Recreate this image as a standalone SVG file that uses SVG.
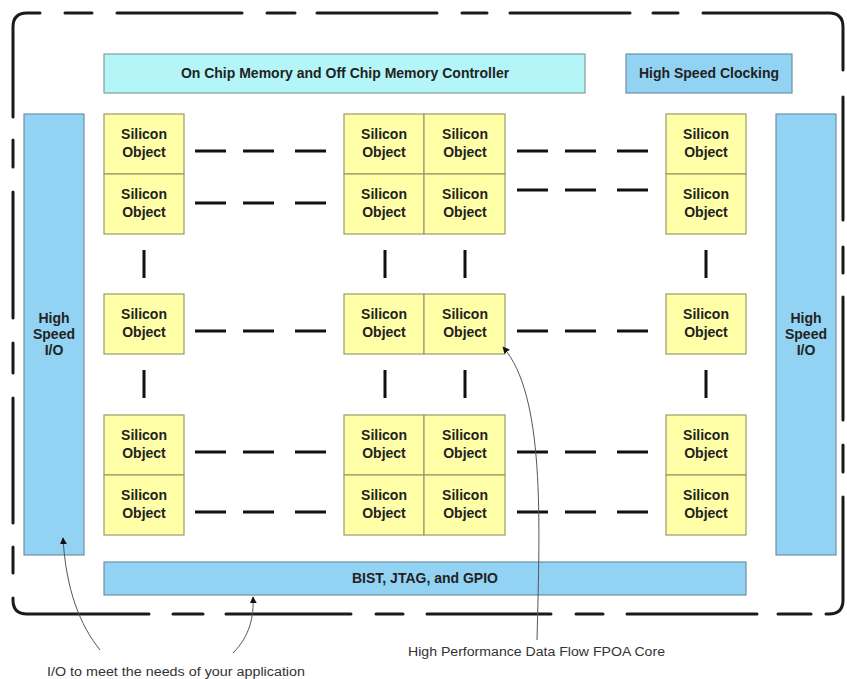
<svg xmlns="http://www.w3.org/2000/svg" width="847" height="679" viewBox="0 0 847 679">
<defs>
<style>
.so{fill:#ffffa8;stroke:#9a9a6a;stroke-width:1.2}
.cy{fill:#b4f6f8;stroke:#7d9e9e;stroke-width:1.2}
.bl{fill:#92d3f3;stroke:#6f90a6;stroke-width:1.2}
.t{font-family:"Liberation Sans",Arial,sans-serif;font-weight:bold;font-size:14px;fill:#222;text-anchor:middle}
.n{font-family:"Liberation Sans",Arial,sans-serif;font-size:12px;fill:#333}
.dh{stroke:#111;stroke-width:3.2;stroke-dasharray:31 17 31 21 31;fill:none}
.dv{stroke:#111;stroke-width:3;fill:none}
.bd{stroke:#1a1a1a;stroke-width:3;fill:none;stroke-linecap:round}
.ar{stroke:#555;stroke-width:1;fill:none;marker-end:url(#ah)}
</style>
<marker id="ah" viewBox="0 0 10 10" refX="9" refY="5" markerWidth="7" markerHeight="7" markerUnits="userSpaceOnUse" orient="auto">
<path d="M0,0 L10,5 L0,10 z" fill="#111"/>
</marker>
</defs>
<rect width="847" height="679" fill="#fff"/>
<g id="border">
<path class="bd" d="M13,117 V27 Q13,13 27,13 H40"/>
<path class="bd" d="M65,13 H92 M117,13 H242 M267,13 H295 M317,13 H437 M462,13 H487 M510,13 H630 M653,13 H678"/>
<path class="bd" d="M703,13 H829 Q843,13 843,27 V70"/>
<path class="bd" d="M843,97 V220 M843,247 V273 M843,297 V420 M843,445 V472"/>
<path class="bd" d="M843,497 V600 Q843,614 829,614 H826"/>
<path class="bd" d="M811,614 H778 M757,614 H627 M603,614 H576 M551,614 H427 M403,614 H376 M351,614 H226 M203,614 H173"/>
<path class="bd" d="M149,614 H27 Q13,614 13,600 V598"/>
<path class="bd" d="M13,573 V547 M13,523 V398 M13,373 V343 M13,318 V192 M13,167 V140"/>
</g>
<g id="memory"><rect class="cy" x="104" y="54" width="481" height="39"/><text class="t" x="345" y="78">On Chip Memory and Off Chip Memory Controller</text></g>
<g id="clocking"><rect class="bl" x="626" y="54" width="166" height="39"/><text class="t" x="709" y="78">High Speed Clocking</text></g>
<g id="io-left"><rect class="bl" x="24" y="114" width="60" height="441"/><text class="t" x="54" y="323">High</text><text class="t" x="54" y="339">Speed</text><text class="t" x="54" y="355">I/O</text></g>
<g id="io-right"><rect class="bl" x="776" y="114" width="60" height="441"/><text class="t" x="806" y="323">High</text><text class="t" x="806" y="339">Speed</text><text class="t" x="806" y="355">I/O</text></g>
<g id="bist"><rect class="bl" x="104" y="562" width="642" height="33"/><text class="t" x="425" y="583">BIST, JTAG, and GPIO</text></g>
<g id="so-1-1"><rect class="so" x="104" y="114" width="80" height="60"/><text class="t" x="144" y="139">Silicon</text><text class="t" x="144" y="157">Object</text></g>
<g id="so-2-1"><rect class="so" x="104" y="174" width="80" height="60"/><text class="t" x="144" y="199">Silicon</text><text class="t" x="144" y="217">Object</text></g>
<g id="so-3-1"><rect class="so" x="104" y="294" width="80" height="60"/><text class="t" x="144" y="319">Silicon</text><text class="t" x="144" y="337">Object</text></g>
<g id="so-4-1"><rect class="so" x="104" y="415" width="80" height="60"/><text class="t" x="144" y="440">Silicon</text><text class="t" x="144" y="458">Object</text></g>
<g id="so-5-1"><rect class="so" x="104" y="475" width="80" height="60"/><text class="t" x="144" y="500">Silicon</text><text class="t" x="144" y="518">Object</text></g>
<g id="so-1-2"><rect class="so" x="344" y="114" width="80" height="60"/><text class="t" x="384" y="139">Silicon</text><text class="t" x="384" y="157">Object</text></g>
<g id="so-2-2"><rect class="so" x="344" y="174" width="80" height="60"/><text class="t" x="384" y="199">Silicon</text><text class="t" x="384" y="217">Object</text></g>
<g id="so-3-2"><rect class="so" x="344" y="294" width="80" height="60"/><text class="t" x="384" y="319">Silicon</text><text class="t" x="384" y="337">Object</text></g>
<g id="so-4-2"><rect class="so" x="344" y="415" width="80" height="60"/><text class="t" x="384" y="440">Silicon</text><text class="t" x="384" y="458">Object</text></g>
<g id="so-5-2"><rect class="so" x="344" y="475" width="80" height="60"/><text class="t" x="384" y="500">Silicon</text><text class="t" x="384" y="518">Object</text></g>
<g id="so-1-3"><rect class="so" x="424" y="114" width="81" height="60"/><text class="t" x="465" y="139">Silicon</text><text class="t" x="465" y="157">Object</text></g>
<g id="so-2-3"><rect class="so" x="424" y="174" width="81" height="60"/><text class="t" x="465" y="199">Silicon</text><text class="t" x="465" y="217">Object</text></g>
<g id="so-3-3"><rect class="so" x="424" y="294" width="81" height="60"/><text class="t" x="465" y="319">Silicon</text><text class="t" x="465" y="337">Object</text></g>
<g id="so-4-3"><rect class="so" x="424" y="415" width="81" height="60"/><text class="t" x="465" y="440">Silicon</text><text class="t" x="465" y="458">Object</text></g>
<g id="so-5-3"><rect class="so" x="424" y="475" width="81" height="60"/><text class="t" x="465" y="500">Silicon</text><text class="t" x="465" y="518">Object</text></g>
<g id="so-1-4"><rect class="so" x="666" y="114" width="80" height="60"/><text class="t" x="706" y="139">Silicon</text><text class="t" x="706" y="157">Object</text></g>
<g id="so-2-4"><rect class="so" x="666" y="174" width="80" height="60"/><text class="t" x="706" y="199">Silicon</text><text class="t" x="706" y="217">Object</text></g>
<g id="so-3-4"><rect class="so" x="666" y="294" width="80" height="60"/><text class="t" x="706" y="319">Silicon</text><text class="t" x="706" y="337">Object</text></g>
<g id="so-4-4"><rect class="so" x="666" y="415" width="80" height="60"/><text class="t" x="706" y="440">Silicon</text><text class="t" x="706" y="458">Object</text></g>
<g id="so-5-4"><rect class="so" x="666" y="475" width="80" height="60"/><text class="t" x="706" y="500">Silicon</text><text class="t" x="706" y="518">Object</text></g>
<g id="connectors">
<path class="dh" d="M195,151 H326 M195,203 H326 M195,331 H326 M195,452 H326 M195,512 H326"/>
<path class="dh" d="M517,151 H648 M517,190 H648 M517,331 H648 M517,452 H648 M517,512 H648"/>
<path class="dv" d="M144,250 V278 M144,370 V398 M385,250 V278 M385,370 V398 M465,250 V278 M465,370 V398 M706,250 V278 M706,370 V398"/>
<path class="ar" d="M100,650 C80,625 66,590 63,538"/>
<path class="ar" d="M233,653 C250,636 254,616 253,597"/>
<path class="ar" d="M537,640 C540,520 545,395 503,347"/>
</g>
<g id="labels">
<text class="n" x="47" y="676" textLength="258" lengthAdjust="spacingAndGlyphs">I/O to meet the needs of your application</text>
<text class="n" x="408" y="656" textLength="257" lengthAdjust="spacingAndGlyphs">High Performance Data Flow FPOA Core</text>
</g>
</svg>
